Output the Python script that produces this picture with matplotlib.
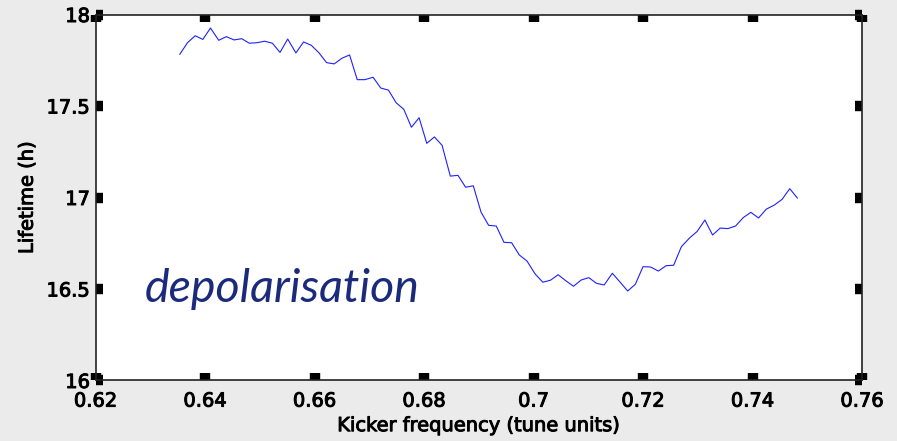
import matplotlib
matplotlib.use("Agg")
import matplotlib.pyplot as plt
import matplotlib.patheffects as pe

# kicker scan: frequency (tune units) vs beam lifetime (hours)
freq = [0.6354, 0.6368, 0.6382, 0.6396, 0.6410, 0.6425, 0.6439, 0.6453, 0.6467, 0.6481,
        0.6495, 0.6509, 0.6523, 0.6537, 0.6551, 0.6566, 0.6580, 0.6594, 0.6608, 0.6622,
        0.6636, 0.6650, 0.6664, 0.6678, 0.6692, 0.6707, 0.6721, 0.6735, 0.6749, 0.6763,
        0.6777, 0.6791, 0.6805, 0.6819, 0.6833, 0.6848, 0.6862, 0.6876, 0.6890, 0.6904,
        0.6918, 0.6932, 0.6946, 0.6960, 0.6974, 0.6988, 0.7003, 0.7017, 0.7031, 0.7045,
        0.7059, 0.7073, 0.7087, 0.7101, 0.7115, 0.7129, 0.7144, 0.7158, 0.7172, 0.7186,
        0.7200, 0.7214, 0.7228, 0.7242, 0.7256, 0.7270, 0.7285, 0.7299, 0.7313, 0.7327,
        0.7341, 0.7355, 0.7369, 0.7383, 0.7397, 0.7411, 0.7425, 0.7440, 0.7454, 0.7468,
        0.7482]
lifetime = [17.783, 17.846, 17.884, 17.864, 17.926, 17.859, 17.879, 17.861, 17.868, 17.843,
            17.846, 17.854, 17.843, 17.793, 17.866, 17.790, 17.850, 17.832, 17.791, 17.737,
            17.730, 17.761, 17.779, 17.644, 17.644, 17.657, 17.598, 17.587, 17.518, 17.482,
            17.384, 17.436, 17.296, 17.331, 17.285, 17.117, 17.121, 17.056, 17.064, 16.921,
            16.848, 16.844, 16.755, 16.753, 16.686, 16.653, 16.582, 16.537, 16.548, 16.578,
            16.545, 16.515, 16.549, 16.562, 16.531, 16.522, 16.586, 16.538, 16.489, 16.526,
            16.622, 16.620, 16.598, 16.627, 16.630, 16.731, 16.779, 16.815, 16.877, 16.795,
            16.833, 16.830, 16.844, 16.890, 16.919, 16.888, 16.936, 16.959, 16.990, 17.048,
            16.997]

xticks = [0.62, 0.64, 0.66, 0.68, 0.70, 0.72, 0.74, 0.76]
xticklabels = ["0.62", "0.64", "0.66", "0.68", "0.7", "0.72", "0.74", "0.76"]
yticks = [16, 16.5, 17, 17.5, 18]
yticklabels = ["16", "16.5", "17", "17.5", "18"]

plt.rcParams["font.family"] = ["DejaVu Sans"]

fig = plt.figure(figsize=(8.97, 4.41), dpi=100, facecolor="#ebebeb")
ax = fig.add_axes([0.1065, 0.1372, 0.8545, 0.8299])
ax.set_facecolor("white")

ax.plot(freq, lifetime, color="#2020ff", linewidth=0.8)

ax.set_xlim(0.62, 0.76)
ax.set_ylim(16, 18)
ax.set_xticks(xticks)
ax.set_xticklabels(xticklabels)
ax.set_yticks(yticks)
ax.set_yticklabels(yticklabels)

# chunky matlab-style ticks on all four sides
ax.tick_params(direction="in", length=5, width=7.5, color="black",
               top=True, right=True, labelsize=14)
ax.tick_params(axis="x", pad=8)
ax.tick_params(axis="y", pad=4)
for s in ax.spines.values():
    s.set_linewidth(1.2)
    s.set_color("#222222")

ax.set_xlabel("Kicker frequency (tune units)", fontsize=14, labelpad=4)
ax.set_ylabel("Lifetime (h)", fontsize=14, labelpad=7)

# slightly heavier axis text
heavy = [pe.withStroke(linewidth=0.7, foreground="black")]
for t in ax.get_xticklabels() + ax.get_yticklabels():
    t.set_path_effects(heavy)
ax.xaxis.label.set_path_effects(heavy)
ax.yaxis.label.set_path_effects(heavy)

ax.text(0.629, 16.431, "depolarisation", fontsize=33.5, style="italic",
        family=["Lato", "DejaVu Sans"], color="#1c2a7c",
        ha="left", va="baseline")

fig.savefig("out.png", dpi=100, facecolor=fig.get_facecolor())
